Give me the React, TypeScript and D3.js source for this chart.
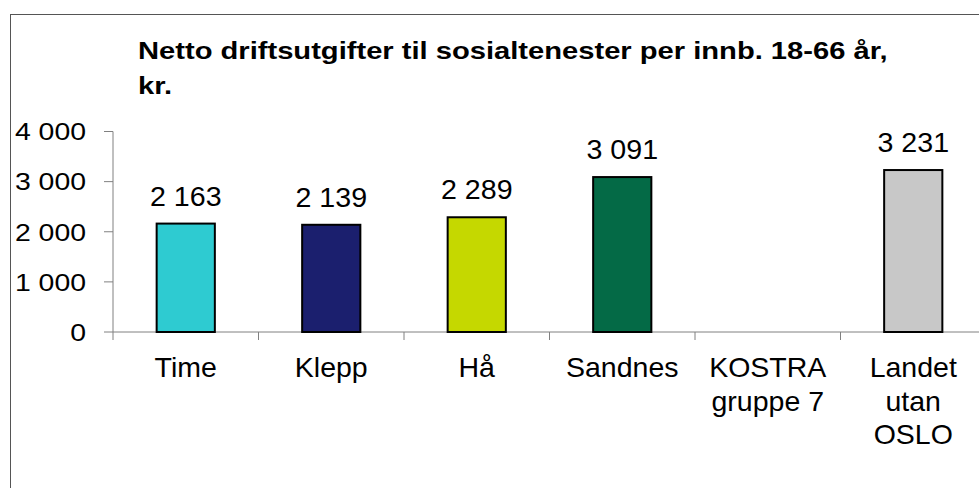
import * as d3 from "d3";

const title = ["Netto driftsutgifter til sosialtenester per innb. 18-66 år,", "kr."];
const categories = [["Time"], ["Klepp"], ["Hå"], ["Sandnes"], ["KOSTRA", "gruppe 7"], ["Landet", "utan", "OSLO"]];
const values: (number | null)[] = [2163, 2139, 2289, 3091, null, 3231];
const barColors = ["#2ecbd1", "#1b1f6e", "#c5d800", "#046a46", "#ffffff", "#c8c8c8"];
const yTicks = [0, 1000, 2000, 3000, 4000];

const W = 979;
const H = 488;
const font = "'Liberation Sans', Arial, sans-serif";

// Nordic thousands separator: "2 163"
const fmt = (v: number) => d3.format(",")(v).replace(/,/g, " ");

export default function App() {
  const left = 113;
  const band = 145.5;
  const x = d3
    .scaleBand<number>()
    .domain(categories.map((_, i) => i))
    .range([left, left + band * categories.length])
    .paddingInner(0)
    .paddingOuter(0);
  const y = d3.scaleLinear().domain([0, 4000]).range([332, 131.5]);
  const barW = band * 0.4;

  return (
    <svg
      width={W}
      height={H}
      style={{ position: "absolute", left: 0, top: 0, background: "#fff" }}
      fontFamily={font}
    >
      <rect x={10.5} y={14.5} width={W + 20} height={H + 20} fill="#fff" stroke="#555" strokeWidth={1} />

      {title.map((line, i) => (
        <text
          key={i}
          transform={`translate(138,${59 + i * 35}) scale(1.19,1)`}
          fontSize={24.5}
          fontWeight="bold"
          fill="#000"
        >
          {line}
        </text>
      ))}

      {/* y axis */}
      <line x1={left} x2={left} y1={y(4000)} y2={y(0)} stroke="#808080" strokeWidth={1} />
      {yTicks.map((t) => (
        <g key={t}>
          <line x1={left - 9} x2={left} y1={y(t)} y2={y(t)} stroke="#808080" strokeWidth={1} />
          <text
            transform={`translate(86,${y(t) + 8.8}) scale(1.16,1)`}
            textAnchor="end"
            fontSize={24.5}
            fill="#000"
          >
            {fmt(t)}
          </text>
        </g>
      ))}

      {/* x axis */}
      <line x1={left} x2={W + 10} y1={y(0)} y2={y(0)} stroke="#808080" strokeWidth={1} />
      {d3.range(categories.length + 1).map((i) => (
        <line
          key={i}
          x1={left + i * band}
          x2={left + i * band}
          y1={y(0)}
          y2={y(0) + 8}
          stroke="#808080"
          strokeWidth={1}
        />
      ))}

      {/* bars */}
      {values.map((v, i) => {
        if (v === null) return null;
        const cx = (x(i) as number) + x.bandwidth() / 2;
        return (
          <g key={i}>
            <rect
              x={cx - barW / 2}
              y={y(v)}
              width={barW}
              height={y(0) - y(v)}
              fill={barColors[i]}
              stroke="#000"
              strokeWidth={2}
            />
            <text
              transform={`translate(${cx},${y(v) - 18}) scale(1.06,1)`}
              textAnchor="middle"
              fontSize={27}
              fill="#000"
            >
              {fmt(v)}
            </text>
          </g>
        );
      })}

      {/* category labels */}
      {categories.map((lines, i) => {
        const cx = (x(i) as number) + x.bandwidth() / 2;
        return lines.map((l, j) => (
          <text
            key={`${i}-${j}`}
            x={cx}
            y={377 + j * 33.5}
            textAnchor="middle"
            fontSize={28.5}
            fill="#000"
          >
            {l}
          </text>
        ));
      })}
    </svg>
  );
}
